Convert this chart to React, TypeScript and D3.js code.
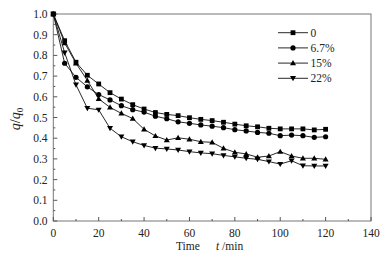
import React from "react";
import * as d3 from "d3";

const times = d3.range(0, 121, 5);
const seriesNames = ["0", "6.7%", "15%", "22%"];
const s0 = [1.0, 0.871, 0.767, 0.704, 0.662, 0.62, 0.589, 0.562, 0.541, 0.524, 0.515, 0.509, 0.499, 0.491, 0.485, 0.477, 0.468, 0.46, 0.455, 0.448, 0.445, 0.445, 0.445, 0.44, 0.443];
const s67 = [1.0, 0.762, 0.694, 0.648, 0.611, 0.585, 0.557, 0.538, 0.526, 0.506, 0.494, 0.479, 0.472, 0.464, 0.458, 0.451, 0.441, 0.435, 0.428, 0.424, 0.412, 0.415, 0.412, 0.404, 0.407];
const s15 = [1.0, 0.86, 0.762, 0.679, 0.59, 0.549, 0.52, 0.495, 0.443, 0.411, 0.391, 0.402, 0.395, 0.383, 0.38, 0.351, 0.332, 0.324, 0.308, 0.314, 0.335, 0.314, 0.303, 0.303, 0.298];
const s22 = [1.0, 0.813, 0.658, 0.545, 0.537, 0.448, 0.407, 0.383, 0.365, 0.352, 0.348, 0.343, 0.335, 0.329, 0.325, 0.317, 0.31, 0.303, 0.298, 0.287, 0.275, 0.291, 0.267, 0.266, 0.266];
const seriesValues = [s0, s67, s15, s22];
const xTicks = [0, 20, 40, 60, 80, 100, 120, 140];
const yTicks = [0, 0.1, 0.2, 0.3, 0.4, 0.5, 0.6, 0.7, 0.8, 0.9, 1.0];

const W = 388, H = 258;
const L = 53.3, R = 371, T = 14, B = 221;
const font = "'Liberation Serif', 'DejaVu Serif', serif";

function Marker({ kind, x, y }: { kind: number; x: number; y: number }) {
  const s = 2.4;
  if (kind === 0) return <rect x={x - s} y={y - s} width={2 * s} height={2 * s} fill="#000" />;
  if (kind === 1) return <circle cx={x} cy={y} r={2.6} fill="#000" />;
  if (kind === 2)
    return <path d={`M${x},${y - 3}L${x + 3},${y + 2.2}L${x - 3},${y + 2.2}Z`} fill="#000" />;
  return <path d={`M${x},${y + 3}L${x + 3},${y - 2.2}L${x - 3},${y - 2.2}Z`} fill="#000" />;
}

export default function App() {
  const x = d3.scaleLinear().domain([0, 140]).range([L, R]);
  const y = d3.scaleLinear().domain([0, 1]).range([B, T]);
  const line = d3
    .line<number>()
    .x((_, i) => x(times[i]))
    .y((d) => y(d));
  const xMinor = d3.range(10, 140, 20);
  const yMinor = d3.range(0.05, 1, 0.1);
  return (
    <svg width={W} height={H} style={{ position: "absolute", left: 0, top: 0, background: "#fff" }}>
      <rect x={L} y={T} width={R - L} height={B - T} fill="none" stroke="#777" strokeWidth={1} />
      {xTicks.map((t) => (
        <g key={"xt" + t}>
          <line x1={x(t)} x2={x(t)} y1={B} y2={B - 4} stroke="#555" />
          <text x={x(t)} y={237} fontSize={11.5} fontFamily={font} textAnchor="middle" fill="#222">
            {t}
          </text>
        </g>
      ))}
      {xMinor.map((t) => (
        <line key={"xm" + t} x1={x(t)} x2={x(t)} y1={B} y2={B - 2} stroke="#555" />
      ))}
      {yTicks.map((t) => (
        <g key={"yt" + t}>
          <line x1={L} x2={L + 4} y1={y(t)} y2={y(t)} stroke="#555" />
          <text x={47.5} y={y(t) + 4} fontSize={11.5} fontFamily={font} textAnchor="end" fill="#222">
            {t.toFixed(1)}
          </text>
        </g>
      ))}
      {yMinor.map((t) => (
        <line key={"ym" + t} x1={L} x2={L + 2} y1={y(t)} y2={y(t)} stroke="#555" />
      ))}
      {seriesValues.map((vals, k) => (
        <g key={"s" + k}>
          <path d={line(vals) || ""} fill="none" stroke="#111" strokeWidth={0.9} />
          {vals.map((v, i) => (
            <Marker key={i} kind={k} x={x(times[i])} y={y(v)} />
          ))}
        </g>
      ))}
      {seriesNames.map((n, k) => {
        const ly = 32.7 + k * 15.2;
        return (
          <g key={"lg" + k}>
            <line x1={278} x2={308} y1={ly} y2={ly} stroke="#111" strokeWidth={0.9} />
            <Marker kind={k} x={293} y={ly} />
            <text x={310.5} y={ly + 4} fontSize={11.5} fontFamily={font} fill="#222">
              {n}
            </text>
          </g>
        );
      })}
      <text
        transform="translate(20,119) rotate(-90)"
        fontSize={14}
        fontFamily={font}
        textAnchor="middle"
        fill="#222"
      >
        <tspan fontStyle="italic">q</tspan>
        <tspan>/</tspan>
        <tspan fontStyle="italic">q</tspan>
        <tspan fontSize={9} dy={3}>0</tspan>
      </text>
      <text x={176} y={250} fontSize={11.5} fontFamily={font} fill="#222">
        Time
      </text>
      <text x={216} y={250} fontSize={11.5} fontFamily={font} fill="#222">
        <tspan fontStyle="italic">t</tspan>
        <tspan> /min</tspan>
      </text>
    </svg>
  );
}
